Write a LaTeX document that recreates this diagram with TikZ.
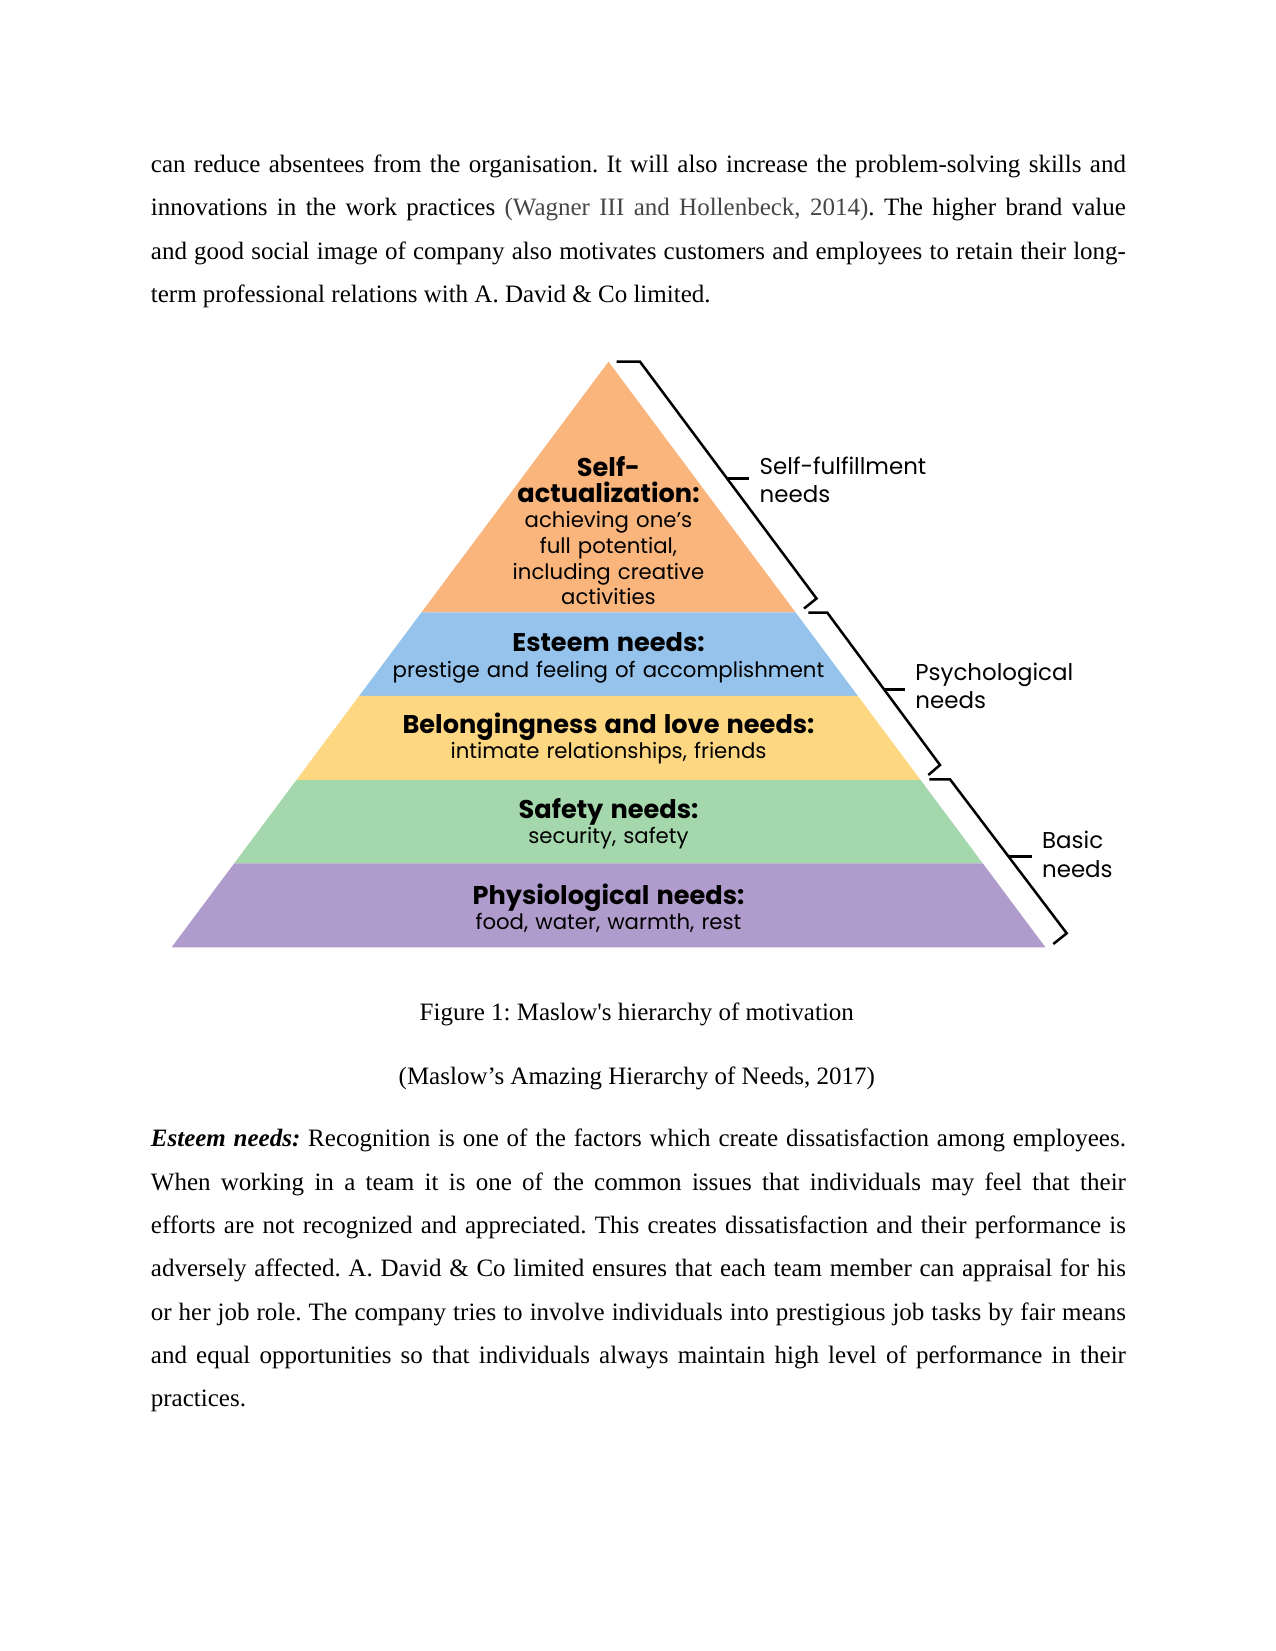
\documentclass[tikz,border=0pt]{standalone}
\usepackage{fontspec}
\setmainfont{Liberation Serif}
\newfontfamily\pyrfont{Poppins}
\usetikzlibrary{calc,positioning}
\frenchspacing
\definecolor{selfcol}{RGB}{250,181,125}
\definecolor{esteemcol}{RGB}{150,195,236}
\definecolor{lovecol}{RGB}{253,215,130}
\definecolor{safecol}{RGB}{165,215,172}
\definecolor{physcol}{RGB}{176,155,205}
\definecolor{citecol}{RGB}{70,70,70}
\newcommand\lvlhead[1]{{\bfseries\fontsize{12.3}{12.6}\selectfont #1}}
\tikzset{
  bodytext/.style={anchor=base west, inner sep=0pt, text width=468pt, align=justify, font=\fontsize{12}{20.8}\selectfont},
  captext/.style={anchor=base, inner sep=0pt, font=\fontsize{12}{14}\selectfont},
  lvltext/.style={anchor=base, inner sep=0pt, text width=9cm, align=center, font=\pyrfont\fontsize{10.2}{12.3}\selectfont},
  sidetext/.style={anchor=base west, inner sep=0pt, text width=4cm, align=left, font=\pyrfont\fontsize{11}{13.8}\selectfont},
  brack/.style={line width=1.2pt, line join=miter}
}

\begin{document}
\begin{tikzpicture}[x=0.48pt, y=-0.48pt]
\fill[white] (0,0) rectangle (1275,1651);
\useasboundingbox (0,0) rectangle (1275,1651);

% text above the figure
\node[bodytext] (para1) at (150.5,172.5) {can reduce absentees from the organisation. It will also increase the problem-solving skills and\linebreak
innovations in the work practices {\color{citecol}(Wagner III and Hollenbeck, 2014)}. The higher brand value\linebreak
and good social image of company also motivates customers and employees to retain their long-\linebreak
term professional relations with A. David \& Co limited.};

% pyramid layers
\coordinate (apex) at (608.5,361.7);
\coordinate (bl) at (171.6,947.3);
\coordinate (br) at (1045.4,947.3);
\foreach \ta/\tb/\col in {0/0.4279/selfcol, 0.4279/0.5705/esteemcol, 0.5705/0.7145/lovecol, 0.7145/0.8566/safecol, 0.8566/1/physcol}
  \fill[\col] ($(apex)!\ta!(bl)$) -- ($(apex)!\tb!(bl)$) -- ($(apex)!\tb!(br)$) -- ($(apex)!\ta!(br)$) -- cycle;

\node[lvltext] (self) at (608.5,476.7) {\lvlhead{Self-}\\\lvlhead{actualization:}\\achieving one’s\\full potential,\\including creative\\activities};
\node[lvltext] (esteem) at (608.5,651.7) {\lvlhead{Esteem needs:}\\prestige and feeling of accomplishment};
\node[lvltext] (love) at (608.5,733.3) {\lvlhead{Belongingness and love needs:}\\intimate relationships, friends};
\node[lvltext] (safety) at (608.5,818.3) {\lvlhead{Safety needs:}\\security, safety};
\node[lvltext] (phys) at (608.5,904) {\lvlhead{Physiological needs:}\\food, water, warmth, rest};

% brackets on the right
\draw[brack] (616.7,361.7) -- (640,361.7) -- (816.5,598.5) -- (804,608.5);
\draw[brack] (808.3,612.7) -- (827.3,612.7) -- (940,765) -- (928.3,775);
\draw[brack] (929.3,779.3) -- (950,779.3) -- (1066.7,933.3) -- (1053.3,944);
\draw[brack] (727,478.3) -- (749,478.3);
\draw[brack] (884.5,689.3) -- (905,689.3);
\draw[brack] (1008,856.7) -- (1031.7,856.7);
\node[sidetext] (fulfil) at (759.3,474) {Self-fulfillment\\needs};
\node[sidetext] (psych) at (915,680) {Psychological\\needs};
\node[sidetext] (basic) at (1041.7,848.3) {Basic\\needs};

% caption
\node[captext] (cap1) at (636.8,1020) {Figure 1: Maslow\textquotesingle s hierarchy of motivation};
\node[captext] (cap2) at (636.8,1084) {(Maslow’s Amazing Hierarchy of Needs, 2017)};

% text below the figure
\node[bodytext] (para2) at (150.5,1146.7) {\textbf{\textit{Esteem needs:}} Recognition is one of the factors which create dissatisfaction among employees.\linebreak
When working in a team it is one of the common issues that individuals may feel that their\linebreak
efforts are not recognized and appreciated. This creates dissatisfaction and their performance is\linebreak
adversely affected. A. David \& Co limited ensures that each team member can appraisal for his\linebreak
or her job role. The company tries to involve individuals into prestigious job tasks by fair means\linebreak
and equal opportunities so that individuals always maintain high level of performance in their\linebreak
practices.};
\end{tikzpicture}
\end{document}
